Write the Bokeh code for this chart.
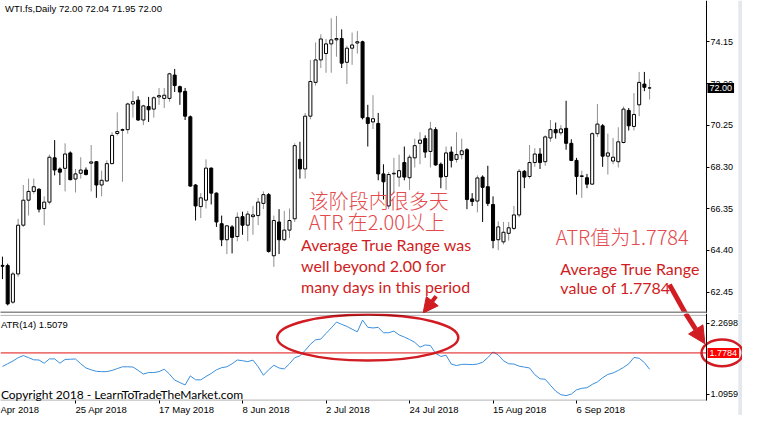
import numpy as np
from bokeh.plotting import figure
from bokeh.layouts import column
from bokeh.models import (Range1d, FixedTicker, PrintfTickFormatter, Label, LinearAxis,
                          Arrow, NormalHead, BoxAnnotation, ColumnDataSource)
from bokeh.embed import file_html
from bokeh.resources import INLINE

# ---------------- data ----------------
opens = [63.70, 63.69, 61.98, 63.30, 65.58, 66.75, 67.16, 67.26, 66.36, 66.66,
         68.73, 68.21, 68.24, 68.96, 67.74, 68.01, 68.16, 68.48, 68.55, 67.46,
         67.65, 68.46, 69.87, 70.02, 70.05, 71.25, 71.43, 70.50, 71.13, 71.01,
         71.58, 71.51, 71.51, 72.60, 72.06, 71.84, 70.65, 67.46, 66.45, 66.75,
         68.25, 67.08, 65.65, 64.90, 65.50, 65.05, 65.98, 65.58, 65.98, 66.03,
         66.60, 67.01, 64.15, 65.73, 64.90, 65.35, 65.88, 68.66, 68.21, 70.68,
         72.26, 73.31, 73.61, 74.06, 74.25, 74.31, 73.20, 73.86, 74.10, 74.16,
         70.61, 70.41, 70.34, 67.98, 66.48, 67.98, 67.83, 68.51, 67.80, 68.73,
         69.41, 69.63, 69.03, 70.05, 68.43, 67.86, 69.00, 68.66, 68.88, 69.11,
         66.81, 66.71, 67.83, 67.38, 66.55, 64.90, 64.80, 65.20, 65.43, 66.06,
         68.10, 67.86, 68.51, 68.91, 68.55, 69.66, 70.05, 69.90, 70.11, 69.41,
         68.61, 67.86, 67.80, 67.50, 69.86, 70.23, 68.81, 68.58, 68.55, 69.45,
         70.95, 70.20, 71.21, 72.18, 72.00]
highs = [64.11, 63.78, 63.40, 65.88, 67.46, 67.76, 67.76, 67.31, 66.93, 68.88,
         69.56, 68.28, 69.41, 69.03, 68.21, 68.76, 68.28, 69.33, 68.58, 68.13,
         68.61, 69.93, 70.86, 70.11, 71.31, 71.85, 71.61, 71.21, 71.58, 71.61,
         72.00, 72.00, 72.71, 72.89, 72.11, 72.00, 70.71, 67.50, 67.08, 68.66,
         68.28, 67.11, 66.03, 65.58, 65.58, 66.18, 66.21, 66.25, 66.48, 66.86,
         67.16, 67.08, 66.03, 66.33, 66.25, 66.36, 69.41, 69.48, 70.83, 73.31,
         74.13, 74.51, 74.29, 75.26, 75.37, 74.74, 73.98, 74.59, 74.66, 74.21,
         71.21, 71.66, 70.83, 68.43, 68.06, 68.73, 68.88, 69.26, 68.88, 69.63,
         69.93, 69.78, 70.41, 70.16, 68.51, 69.26, 69.26, 69.93, 69.63, 69.18,
         67.08, 67.91, 67.91, 68.36, 66.93, 65.76, 65.73, 65.73, 66.48, 68.21,
         68.16, 69.33, 69.18, 69.18, 69.78, 70.50, 70.38, 70.26, 71.40, 69.60,
         68.73, 68.13, 67.98, 69.93, 71.25, 70.31, 69.86, 69.66, 70.16, 71.13,
         71.06, 71.76, 72.75, 72.75, 72.41]
lows = [63.06, 61.83, 61.90, 63.18, 65.50, 66.03, 67.05, 66.18, 65.58, 66.55,
        67.91, 67.46, 67.16, 67.68, 67.11, 67.76, 67.91, 67.16, 66.86, 66.93,
        67.61, 68.43, 69.78, 67.61, 69.86, 70.61, 70.46, 70.26, 70.41, 70.61,
        71.21, 71.06, 71.36, 71.81, 71.21, 70.50, 67.38, 65.80, 65.91, 66.36,
        66.55, 65.50, 64.60, 64.23, 64.26, 64.83, 65.13, 64.83, 65.13, 65.58,
        66.33, 64.30, 63.63, 64.23, 64.83, 64.98, 65.73, 67.76, 67.76, 70.53,
        72.11, 72.93, 72.71, 72.71, 73.46, 72.93, 72.18, 73.08, 73.61, 70.53,
        69.26, 70.08, 67.68, 66.78, 66.33, 67.08, 67.38, 67.68, 67.23, 68.28,
        68.43, 68.73, 68.28, 68.36, 67.31, 67.23, 68.28, 68.51, 68.66, 66.33,
        66.48, 66.18, 65.73, 66.48, 64.50, 64.41, 64.68, 64.86, 65.35, 65.95,
        67.31, 67.76, 68.31, 68.21, 68.36, 69.48, 69.63, 69.78, 69.11, 68.58,
        67.01, 66.86, 67.31, 67.46, 69.71, 68.31, 67.95, 68.43, 68.28, 69.41,
        70.01, 70.01, 70.68, 71.85, 71.46]
closes = [63.66, 61.90, 63.30, 65.58, 66.75, 67.16, 67.38, 66.33, 66.66, 68.76,
          68.16, 68.06, 68.91, 67.71, 67.98, 68.16, 67.95, 68.54, 67.46, 67.68,
          68.46, 69.78, 69.96, 70.05, 71.25, 71.36, 70.50, 71.16, 70.98, 71.54,
          71.64, 71.66, 72.66, 72.11, 71.81, 70.68, 67.41, 66.48, 66.86, 68.25,
          67.08, 65.73, 64.90, 65.55, 65.01, 65.95, 65.58, 66.10, 66.06, 66.66,
          67.01, 64.35, 65.80, 64.90, 65.35, 65.80, 69.30, 68.21, 70.68, 72.30,
          73.31, 74.29, 74.06, 74.25, 74.31, 73.16, 73.86, 74.01, 74.16, 70.61,
          70.34, 70.56, 67.98, 67.61, 67.95, 68.01, 68.13, 67.83, 68.76, 69.30,
          69.56, 69.00, 70.08, 68.40, 67.83, 68.96, 68.61, 68.88, 69.06, 66.78,
          66.69, 67.79, 67.35, 66.60, 64.86, 65.50, 65.25, 65.46, 66.06, 68.10,
          67.83, 68.51, 68.91, 68.51, 69.71, 70.05, 69.90, 70.08, 69.41, 68.61,
          67.86, 67.89, 67.50, 69.86, 70.31, 68.81, 68.96, 68.76, 69.48, 71.01,
          70.23, 70.76, 72.26, 72.03, 72.00]
atr = [1.556, 1.600, 1.645, 1.700, 1.735, 1.700, 1.665, 1.662, 1.609, 1.680,
       1.680, 1.609, 1.670, 1.675, 1.678, 1.600, 1.530, 1.500, 1.475, 1.470,
       1.470, 1.490, 1.520, 1.550, 1.550, 1.546, 1.490, 1.430, 1.455, 1.455,
       1.470, 1.510, 1.430, 1.330, 1.290, 1.250, 1.400, 1.335, 1.334, 1.390,
       1.440, 1.500, 1.535, 1.550, 1.600, 1.662, 1.650, 1.635, 1.660, 1.550,
       1.410, 1.500, 1.575, 1.530, 1.514, 1.600, 1.700, 1.730, 1.820, 1.920,
       1.995, 2.006, 2.100, 2.190, 2.286, 2.250, 2.215, 2.170, 2.127, 2.320,
       2.201, 2.190, 2.200, 2.111, 2.111, 2.138, 2.075, 2.040, 2.000, 1.953,
       1.873, 1.910, 1.900, 1.770, 1.720, 1.741, 1.595, 1.570, 1.590, 1.590,
       1.585, 1.595, 1.625, 1.700, 1.794, 1.745, 1.650, 1.600, 1.595, 1.560,
       1.545, 1.530, 1.420, 1.352, 1.345, 1.245, 1.150, 1.090, 1.075, 1.100,
       1.170, 1.195, 1.205, 1.260, 1.300, 1.370, 1.424, 1.448, 1.490, 1.540,
       1.598, 1.704, 1.690, 1.620, 1.508]
price_ticks = [62.45, 64.40, 66.35, 68.30, 70.25, 72.20, 74.15]
atr_ticks = [1.0959, 2.2698]
atr_level = 1.7784
last_price = 72.00
date_tick_bars = [14, 30, 46, 62, 78, 94, 110]
date_tick_labels = ["25 Apr 2018", "17 May 2018", "8 Jun 2018", "2 Jul 2018",
                    "24 Jul 2018", "15 Aug 2018", "6 Sep 2018"]
first_date_label = "Apr 2018"

# ---------------- layout constants ----------------
W = 742
X0, X1 = -0.375, 141.8          # bar-index span of the full width
AX = 134.9                      # bar index where the price axis sits
STRIP = 141.0                   # start of the light strip at the right edge
PPU = W / (X1 - X0)             # pixels per bar
RED = "#d01c22"
CN_RED = "#e34a4e"
AXFONT = "Liberation Sans"
DATE_FS = 9.5
CHAR_W = {"0": .556, "1": .556, "2": .556, "4": .556, "5": .556, "6": .556, "7": .556,
          "8": .556, " ": .278, "A": .667, "p": .556, "r": .333, "M": .833, "a": .556,
          "y": .5, "J": .5, "u": .556, "n": .556, "l": .222, "g": .556, "S": .667, "e": .556}


def half_w(s):
    return sum(CHAR_W.get(ch, .556) for ch in s) * DATE_FS / 2 / PPU


bars = list(range(len(opens)))
tops = [max(o, c) for o, c in zip(opens, closes)]
bots = [min(o, c) for o, c in zip(opens, closes)]
bull = [c >= o for o, c in zip(opens, closes)]
src = ColumnDataSource(dict(x=bars, h=highs, l=lows, top=tops, bottom=bots,
                            fill=["white" if b else "black" for b in bull],
                            wick=["#8f8f8f" if b else "black" for b in bull]))

xr = Range1d(X0, X1)


def style_axis(ax, fs="9px"):
    ax.major_tick_in = 0
    ax.major_tick_out = 3
    ax.minor_tick_in = 0
    ax.minor_tick_out = 0
    ax.major_label_standoff = 1
    ax.major_label_text_font = AXFONT
    ax.major_label_text_font_size = fs
    ax.major_label_text_color = "black"
    ax.axis_line_color = "black"


# ---------------- price panel ----------------
P_LO, P_HI = 61.45, 76.09
p = figure(width=W, height=313, x_range=xr, y_range=Range1d(P_LO, P_HI),
           output_backend="svg", toolbar_location=None, x_axis_location=None,
           y_axis_location=None, min_border_left=0, min_border_top=0,
           min_border_bottom=0, min_border_right=0)
p.outline_line_color = None
p.grid.visible = False

p.add_layout(BoxAnnotation(left=STRIP, fill_color="#e3e8ef", fill_alpha=1,
                           line_color=None, level="underlay"))

pa = LinearAxis(fixed_location=AX, ticker=FixedTicker(ticks=price_ticks),
                formatter=PrintfTickFormatter(format="%.2f"))
style_axis(pa)
p.add_layout(pa, "right")

p.segment(x0="x", y0="h", x1="x", y1="l", source=src, line_color="wick", line_width=1)
p.vbar(x="x", width=0.58, top="top", bottom="bottom", source=src,
       fill_color="fill", line_color="black", line_width=1)

p.add_layout(BoxAnnotation(left=X0 - 1, right=AX, bottom=P_LO, top=P_LO + 0.09,
                           fill_color="#8a8a8a", fill_alpha=1, line_color=None))

p.add_layout(Label(x=0.5, y=75.73, text="WTI.fs,Daily  72.00 72.04 71.95 72.00",
                   text_font=AXFONT, text_font_size="9.5px", text_color="black",
                   text_baseline="middle"))
p.add_layout(Label(x=AX + 0.2, y=last_price, text="72.00", text_font=AXFONT,
                   text_font_size="9px", text_color="white", text_baseline="middle",
                   background_fill_color="black", padding=2))

cn = dict(text_font="Noto Sans CJK SC Light", text_font_size="20px", text_color=CN_RED,
          text_baseline="middle")
en = dict(text_font="Lato", text_font_size="16px", text_color=RED, text_baseline="middle")
p.add_layout(Label(x=58.7, y=66.72, text="该阶段内很多天", **cn))
p.add_layout(Label(x=58.7, y=65.77, text="ATR  在2.00以上", **cn))
p.add_layout(Label(x=57.2, y=64.69, text="Average True Range was", **en))
p.add_layout(Label(x=57.2, y=63.70, text="well beyond 2.00 for", **en))
p.add_layout(Label(x=57.2, y=62.71, text="many days in this period", **en))
p.add_layout(Label(x=106.0, y=65.05, text="ATR值为1.7784", **cn))
p.add_layout(Label(x=106.9, y=63.57, text="Average True Range", **en))
p.add_layout(Label(x=106.9, y=62.67, text="value of 1.7784", **en))

p.add_layout(Arrow(end=NormalHead(size=15, fill_color=RED, line_color=RED),
                   x_start=83.1, y_start=62.26, x_end=80.6, y_end=61.47,
                   line_color=RED, line_width=4))
p.line(x=[127.8, 131.0], y=[62.80, 61.40], line_color=RED, line_width=5)

# ---------------- ATR panel ----------------
A_LO, A_HI = 0.7469, 2.4284
A_BOT, A_TOP = 1.0007, 2.397
q = figure(width=W, height=102, x_range=xr, y_range=Range1d(A_LO, A_HI),
           output_backend="svg", toolbar_location=None, x_axis_location=None,
           y_axis_location=None, min_border_left=0, min_border_top=0,
           min_border_bottom=0, min_border_right=0)
q.outline_line_color = None
q.grid.visible = False

q.add_layout(BoxAnnotation(left=STRIP, fill_color="#e3e8ef", fill_alpha=1,
                           line_color=None, level="underlay"))
q.add_layout(BoxAnnotation(left=X0 - 1, right=AX, bottom=A_BOT, top=A_TOP,
                           fill_color=None, fill_alpha=0, line_color="black", line_width=1))

qa = LinearAxis(fixed_location=AX, ticker=FixedTicker(ticks=atr_ticks),
                formatter=PrintfTickFormatter(format="%.4f"), bounds=(A_BOT, A_HI))
style_axis(qa)
q.add_layout(qa, "right")

# date axis: tick marks at the bars, labels starting at the tick (left aligned)
ta = LinearAxis(fixed_location=A_BOT, ticker=FixedTicker(ticks=date_tick_bars),
                major_label_overrides={t: "" for t in date_tick_bars})
style_axis(ta)
ta.axis_line_color = None
q.add_layout(ta, "below")

lab_pos = [X0 + half_w(first_date_label)] + [t + half_w(s) for t, s in zip(date_tick_bars, date_tick_labels)]
lab_txt = [first_date_label] + date_tick_labels
la = LinearAxis(fixed_location=A_BOT, ticker=FixedTicker(ticks=lab_pos),
                major_label_overrides={t: s for t, s in zip(lab_pos, lab_txt)})
style_axis(la, f"{DATE_FS}px")
la.axis_line_color = None
la.major_tick_out = 0
la.major_label_standoff = 4
q.add_layout(la, "below")

q.line(x=bars, y=atr, line_color="#3b8fdc", line_width=1)
q.segment(x0=[X0], y0=[atr_level], x1=[AX], y1=[atr_level], line_color="#e01010", line_width=1)

q.add_layout(Label(x=-0.3, y=2.254, text="ATR(14) 1.5079", text_font=AXFONT,
                   text_font_size="9.5px", text_color="black", text_baseline="middle"))
q.add_layout(Label(x=-0.3, y=1.10, text="Copyright 2018 - LearnToTradeTheMarket.com",
                   text_font="Lato", text_font_size="12px", text_color="black",
                   text_baseline="middle"))
q.add_layout(Label(x=AX + 0.2, y=atr_level, text="1.7784", text_font=AXFONT,
                   text_font_size="9px", text_color="white", text_baseline="middle",
                   background_fill_color="#ff0000", padding=2))

q.ellipse(x=70.0, y=2.032, width=34.7, height=0.76, fill_color=None,
          line_color=RED, line_width=2.5)
q.ellipse(x=137.9, y=1.778, width=7.9, height=0.44, fill_color=None,
          line_color=RED, line_width=2.5)

q.add_layout(Arrow(end=NormalHead(size=17, fill_color=RED, line_color=RED),
                   x_start=130.9, y_start=A_HI, x_end=134.6, y_end=1.93,
                   line_color=RED, line_width=5))

layout = column(p, q, spacing=0)
open("out.html", "w").write(file_html(layout, INLINE))
